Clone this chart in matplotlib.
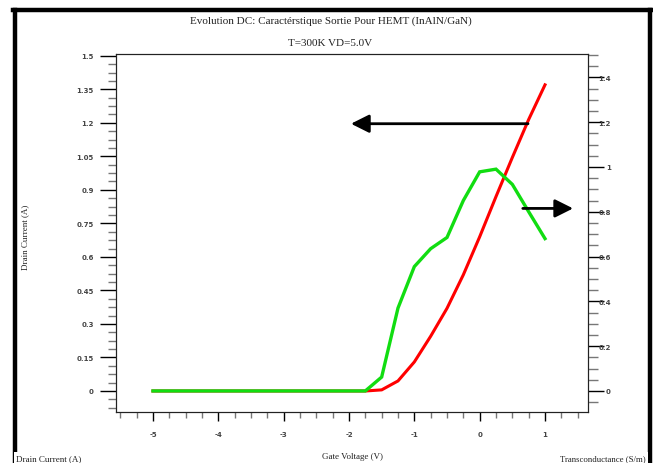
import matplotlib
matplotlib.use("Agg")
import matplotlib.pyplot as plt
from matplotlib.lines import Line2D
from matplotlib.ticker import MultipleLocator

# données (pas de 0.25 V)
gate_voltage = [-5.0, -4.75, -4.5, -4.25, -4.0, -3.75, -3.5, -3.25, -3.0, -2.75,
                -2.5, -2.25, -2.0, -1.75, -1.5, -1.25, -1.0, -0.75, -0.5, -0.25,
                0.0, 0.25, 0.5, 0.75, 1.0]
drain_current = [0, 0, 0, 0, 0, 0, 0, 0, 0, 0,
                 0, 0, 0, 0, 0.005, 0.045, 0.13, 0.245, 0.37, 0.52,
                 0.69, 0.87, 1.045, 1.215, 1.37]
transconductance = [0, 0, 0, 0, 0, 0, 0, 0, 0, 0,
                    0, 0, 0, 0, 0.062, 0.37, 0.555, 0.635, 0.685, 0.85,
                    0.978, 0.99, 0.922, 0.80, 0.68]

left_ticks = [0, 0.15, 0.3, 0.45, 0.6, 0.75, 0.9, 1.05, 1.2, 1.35, 1.5]
right_ticks = [0, 0.2, 0.4, 0.6, 0.8, 1, 1.2, 1.4]
x_ticks = [-5, -4, -3, -2, -1, 0, 1]

serif = "Liberation Serif"
tick_font = dict(family="DejaVu Sans", size=5, weight="bold", color="#444444")

fig = plt.figure(figsize=(6.53, 4.64), dpi=100)
ax = fig.add_axes([116 / 653, 1 - 413 / 464, (588 - 116) / 653, (413 - 55) / 464])
ax2 = ax.twinx()

ax.plot(gate_voltage, drain_current, color="#ff0000", lw=2.2, solid_joinstyle="miter")
ax2.plot(gate_voltage, transconductance, color="#11dd11", lw=2.4, solid_joinstyle="miter")

# même zéro pour les deux axes
ax.set_xlim(-5.566, 1.658)
ax.set_ylim(-0.094, 1.508)
ax2.set_ylim(-0.094, 1.504)

# axe gauche
ax.set_yticks(left_ticks)
ax.set_yticklabels([f"{v:g}" for v in left_ticks], fontdict=tick_font)
ax.yaxis.set_minor_locator(MultipleLocator(0.0375))
ax.tick_params(axis="y", which="major", direction="out", length=11.5, width=1.0, color="black", pad=4.5)
ax.tick_params(axis="y", which="minor", direction="out", length=5.8, width=1.0, color="#777777")

# axe x
ax.set_xticks(x_ticks)
ax.set_xticklabels([str(v) for v in x_ticks], fontdict=tick_font)
ax.xaxis.set_minor_locator(MultipleLocator(0.25))
ax.tick_params(axis="x", which="major", direction="out", length=6.5, width=1.0, color="black", pad=7)
ax.tick_params(axis="x", which="minor", direction="out", length=4.3, width=1.0, color="#777777")

# axe droit
ax2.set_yticks(right_ticks)
ax2.set_yticklabels([f"{v:g}" for v in right_ticks], fontdict=tick_font)
for lab in ax2.get_yticklabels():
    lab.set_horizontalalignment("right")
ax2.yaxis.set_minor_locator(MultipleLocator(0.05))
ax2.tick_params(axis="y", which="major", direction="out", length=11.5, width=1.0, color="black", pad=5)
ax2.tick_params(axis="y", which="minor", direction="out", length=7.2, width=1.0, color="#777777")

for a in (ax, ax2):
    for s in a.spines.values():
        s.set_linewidth(0.8)
        s.set_color("#222222")

# flèches
arrow_style = dict(arrowstyle="-|>,head_length=1.0,head_width=0.5", mutation_scale=11,
                   lw=2, color="black", shrinkA=0, shrinkB=0)
ax2.annotate("", xy=(-1.97, 1.196), xytext=(0.74, 1.196), xycoords=ax.transData,
             textcoords=ax.transData, arrowprops=arrow_style)
ax2.annotate("", xy=(1.43, 0.817), xytext=(0.66, 0.817), xycoords=ax.transData,
             textcoords=ax.transData, arrowprops=arrow_style)

# cadre noir
border = dict(color="black", lw=3.2, transform=fig.transFigure)
fig.add_artist(Line2D([15 / 653, 15 / 653], [0, 1 - 10.5 / 464], **border))
fig.add_artist(Line2D([649.5 / 653, 649.5 / 653], [0, 1 - 10.5 / 464], **border))
fig.add_artist(Line2D([13 / 653, 652 / 653], [1 - 10.5 / 464, 1 - 10.5 / 464], **border))

# titres et étiquettes
fig.text(331 / 653, 1 - 21 / 464, "Evolution DC: Caractérstique Sortie Pour HEMT (InAlN/GaN)",
         family=serif, size=8, ha="center", va="center", color="#222222")
fig.text(330 / 653, 1 - 43 / 464, "T=300K VD=5.0V",
         family=serif, size=8, ha="center", va="center", color="#222222")
fig.text(25 / 653, 1 - 237 / 464, "Drain Current (A)", family=serif, size=6.5,
         rotation=90, ha="center", va="center", color="#222222")
white = dict(facecolor="white", edgecolor="none", pad=1.5)
fig.text(16 / 653, 1 - 459 / 464, "Drain Current (A)", family=serif, size=6.5,
         ha="left", va="center", color="#222222", bbox=white, zorder=5)
fig.text(352 / 653, 1 - 457 / 464, "Gate Voltage (V)", family=serif, size=6.5,
         ha="center", va="center", color="#222222")
fig.text(646 / 653, 1 - 459 / 464, "Transconductance (S/m)", family=serif, size=6.3,
         ha="right", va="center", color="#222222", bbox=white, zorder=5)

fig.savefig("out.png", dpi=100)
